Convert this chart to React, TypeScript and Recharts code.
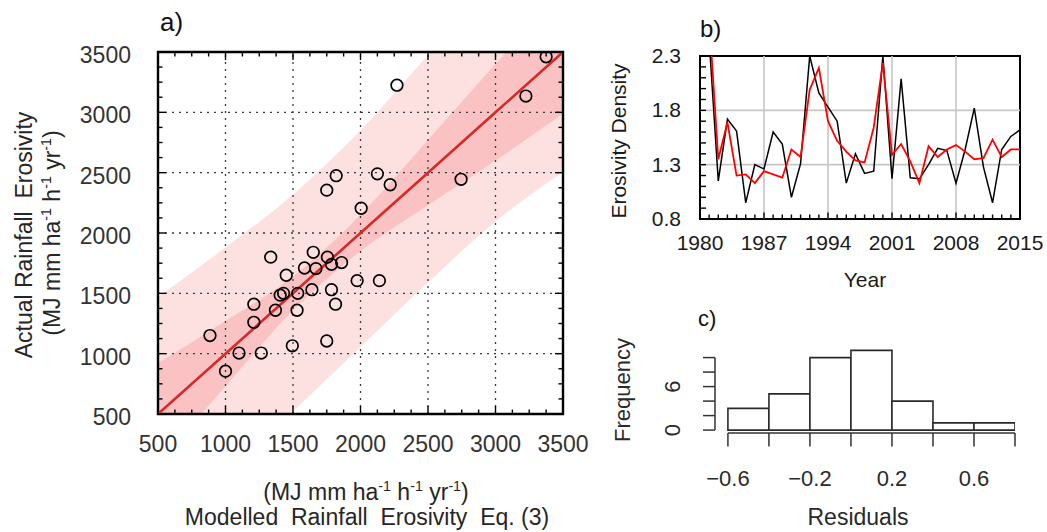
import React from 'react';
import {
  ComposedChart,
  Line,
  Area,
  Scatter,
  Bar,
  XAxis,
  YAxis,
  ReferenceLine,
  ReferenceArea,
} from 'recharts';

const FONT = '"Liberation Sans", Arial, Helvetica, sans-serif';

// ---------------- Panel a: scatter of modelled vs actual erosivity ----------------
const modelledR = [3375, 2270, 3225, 1820, 1750, 2125, 2220, 2745, 2005, 1650, 1335, 1755, 1785, 1860, 1585, 1670, 1450, 1975, 2140, 1640, 1785, 1405, 1430, 1535, 1815, 1210, 1370, 1530, 1210, 885, 1750, 1495, 1100, 1265, 1000];
const actualR = [3460, 3225, 3135, 2475, 2355, 2490, 2400, 2445, 2205, 1840, 1800, 1800, 1740, 1755, 1710, 1705, 1650, 1605, 1605, 1530, 1530, 1485, 1500, 1500, 1410, 1410, 1360, 1360, 1260, 1150, 1105, 1065, 1005, 1005, 855];

const bandX = [500, 1000, 1500, 2000, 2500, 3000, 3500];
const fitY = [500, 1000, 1500, 2000, 2500, 3000, 3500];
const predLow = [-560, -20, 520, 1056, 1590, 2095, 2505];
const predHigh = [1470, 1880, 2320, 2850, 3470, 4050, 4600];
const confLow = [80, 730, 1360, 1850, 2230, 2600, 2990];
const confHigh = [920, 1270, 1640, 2150, 2770, 3400, 4010];

const aMajorTicks = [500, 1000, 1500, 2000, 2500, 3000, 3500];
const aMinorTicks = [625, 750, 875, 1125, 1250, 1375, 1625, 1750, 1875, 2125, 2250, 2375, 2625, 2750, 2875, 3125, 3250, 3375];
const aGrid = [1000, 1500, 2000, 2500, 3000];

// ---------------- Panel b: erosivity density time series ----------------
const years = [1981, 1982, 1983, 1984, 1985, 1986, 1987, 1988, 1989, 1990, 1991, 1992, 1993, 1994, 1995, 1996, 1997, 1998, 1999, 2000, 2001, 2002, 2003, 2004, 2005, 2006, 2007, 2008, 2009, 2010, 2011, 2012, 2013, 2014, 2015];
const observedDensity = [2.45, 1.15, 1.72, 1.61, 0.95, 1.3, 1.26, 1.6, 1.49, 1.0, 1.31, 2.3, 1.96, 1.83, 1.7, 1.13, 1.4, 1.22, 1.24, 2.3, 1.17, 2.09, 1.18, 1.17, 1.3, 1.45, 1.43, 1.13, 1.44, 1.82, 1.28, 0.95, 1.44, 1.56, 1.62];
const modelledDensity = [2.65, 1.35, 1.69, 1.2, 1.21, 1.13, 1.24, 1.21, 1.18, 1.44, 1.37, 1.99, 2.19, 1.7, 1.52, 1.42, 1.34, 1.32, 1.64, 2.24, 1.39, 1.49, 1.33, 1.13, 1.47, 1.37, 1.44, 1.48, 1.42, 1.35, 1.36, 1.53, 1.37, 1.44, 1.44];

const bYearTicks = [1980, 1981, 1982, 1983, 1984, 1985, 1986, 1987, 1988, 1989, 1990, 1991, 1992, 1993, 1994, 1995, 1996, 1997, 1998, 1999, 2000, 2001, 2002, 2003, 2004, 2005, 2006, 2007, 2008, 2009, 2010, 2011, 2012, 2013, 2014, 2015];
const bYearLabels = [1980, 1987, 1994, 2001, 2008, 2015];
const bDensTicks = [0.8, 0.9, 1.0, 1.1, 1.2, 1.3, 1.4, 1.5, 1.6, 1.7, 1.8, 1.9, 2.0, 2.1, 2.2, 2.3];
const bDensLabels = [0.8, 1.3, 1.8, 2.3];
const bGridX = [1987, 1994, 2001, 2008];
const bGridY = [1.3, 1.8];

// ---------------- Panel c: histogram of residuals ----------------
const binMids = [-0.5, -0.3, -0.1, 0.1, 0.3, 0.5, 0.7];
const binCounts = [3, 5, 10, 11, 4, 1, 1];
const cXTicks = [-0.6, -0.4, -0.2, 0, 0.2, 0.4, 0.6, 0.8];
const cXLabelValues = [-0.6, -0.2, 0.2, 0.6];
const cXLabelTexts = ['\u22120.6', '\u22120.2', '0.2', '0.6'];
const cYTicks = [0, 2, 4, 6, 8, 10];
const cYLabels = [0, 6];

// ---------------- derived tables ----------------
const bandData = bandX.map((x, i) => ({
  x,
  fit: fitY[i],
  pred: [predLow[i], predHigh[i]],
  conf: [confLow[i], confHigh[i]],
}));
const scatterData = modelledR.map((x, i) => ({ x, y: actualR[i] }));
const densData = years.map((year, i) => ({
  year,
  observed: observedDensity[i],
  modelled: modelledDensity[i],
}));
const histData = binMids.map((mid, i) => ({ mid, count: binCounts[i] }));

// ---------------- layout constants ----------------
const A_TOP = 52;
const A_RIGHT = 563;
const B_LEFT_W = 60;

const near = (arr: number[], v: number) => arr.some((a) => Math.abs(a - v) < 1e-6);

const aXTick = (props: any) => {
  const { x, y, payload } = props;
  const v = Number(payload.value);
  const major = near(aMajorTicks, v);
  const len = major ? 8 : 4.5;
  return (
    <g>
      <line x1={x} x2={x} y1={y} y2={y - len} stroke="#000" strokeWidth={1.4} />
      <line x1={x} x2={x} y1={A_TOP} y2={A_TOP + len} stroke="#000" strokeWidth={1.4} />
      {major ? (
        <text x={x} y={y + 37.5} textAnchor="middle" fontSize={23} fontFamily={FONT} fill="#333">
          {v}
        </text>
      ) : null}
    </g>
  );
};

const aYTick = (props: any) => {
  const { x, y, payload } = props;
  const v = Number(payload.value);
  const major = near(aMajorTicks, v);
  const len = major ? 8 : 4.5;
  return (
    <g>
      <line x1={x} x2={x + len} y1={y} y2={y} stroke="#000" strokeWidth={1.4} />
      <line x1={A_RIGHT} x2={A_RIGHT - len} y1={y} y2={y} stroke="#000" strokeWidth={1.4} />
      {major ? (
        <text x={x - 27} y={y + 11} textAnchor="end" fontSize={23} fontFamily={FONT} fill="#333">
          {v}
        </text>
      ) : null}
    </g>
  );
};

const bXTick = (props: any) => {
  const { x, y, payload } = props;
  const v = Number(payload.value);
  const major = near(bYearLabels, v);
  const len = major ? 6.5 : 4.5;
  return (
    <g>
      <line x1={x} x2={x} y1={y} y2={y - len} stroke="#000" strokeWidth={1.4} />
      {major ? (
        <text x={x} y={y + 31} textAnchor="middle" fontSize={21} fontFamily={FONT} fill="#1a1a1a">
          {v}
        </text>
      ) : null}
    </g>
  );
};

const bYTick = (props: any) => {
  const { x, y, payload } = props;
  const v = Number(payload.value);
  const major = near(bDensLabels, v);
  return (
    <g>
      <line x1={x} x2={x + 6} y1={y} y2={y} stroke="#000" strokeWidth={1.4} />
      {major ? (
        <text x={x - 19} y={y + 7} textAnchor="end" fontSize={21} fontFamily={FONT} fill="#1a1a1a">
          {v.toFixed(1)}
        </text>
      ) : null}
    </g>
  );
};

const cXTick = (props: any) => {
  const { x, y, payload } = props;
  const v = Number(payload.value);
  const idx = cXLabelValues.findIndex((a) => Math.abs(a - v) < 1e-6);
  return (
    <g>
      <line x1={x} x2={x} y1={y} y2={y + 13.5} stroke="#333" strokeWidth={1.5} />
      {idx >= 0 ? (
        <text x={x} y={y + 53} textAnchor="middle" fontSize={22} fontFamily={FONT} fill="#2a2a2a">
          {cXLabelTexts[idx]}
        </text>
      ) : null}
    </g>
  );
};

const cYTick = (props: any) => {
  const { x, y, payload } = props;
  const v = Number(payload.value);
  const lab = near(cYLabels, v);
  const bx = x - 35;
  return (
    <g>
      <line x1={x} x2={x - 12} y1={y} y2={y} stroke="#333" strokeWidth={1.5} />
      {lab ? (
        <text
          x={bx}
          y={y}
          transform={`rotate(-90 ${bx} ${y})`}
          textAnchor="middle"
          fontSize={22}
          fontFamily={FONT}
          fill="#2a2a2a"
        >
          {v}
        </text>
      ) : null}
    </g>
  );
};

const Sup = ({ children }: { children: React.ReactNode }) => (
  <span style={{ fontSize: '0.62em', position: 'relative', top: '-0.6em' }}>{children}</span>
);

const Units = () => (
  <>
    (MJ mm ha<Sup>-1</Sup> h<Sup>-1</Sup> yr<Sup>-1</Sup>)
  </>
);

const Txt = ({
  cx,
  cy,
  size,
  rotate,
  color,
  children,
}: {
  cx: number;
  cy: number;
  size: number;
  rotate?: boolean;
  color?: string;
  children: React.ReactNode;
}) => (
  <div
    style={{
      position: 'absolute',
      left: cx,
      top: cy,
      transform: `translate(-50%, -50%)${rotate ? ' rotate(-90deg)' : ''}`,
      fontSize: size,
      lineHeight: 1,
      whiteSpace: 'pre',
      fontFamily: FONT,
      color: color || '#1a1a1a',
    }}
  >
    {children}
  </div>
);

const circleShape = (p: any) => (
  <circle cx={p.cx} cy={p.cy} r={5.8} fill="none" stroke="#000" strokeWidth={1.7} />
);

export default function App() {
  return (
    <div
      style={{
        position: 'absolute',
        left: 0,
        top: 0,
        width: 1047,
        height: 532,
        background: '#fff',
        overflow: 'hidden',
        fontFamily: FONT,
      }}
    >
      {/* Panel a */}
      <div style={{ position: 'absolute', left: 0, top: 0 }}>
        <ComposedChart
          width={600}
          height={532}
          data={bandData}
          margin={{ top: 52, right: 37, bottom: 88, left: 98 }}
        >
          <XAxis
            type="number"
            dataKey="x"
            domain={[500, 3500]}
            ticks={[...aMajorTicks, ...aMinorTicks].sort((a, b) => a - b)}
            interval={0}
            tickSize={0}
            tickMargin={0}
            tickLine={false}
            axisLine={false}
            height={30}
            tick={aXTick}
            allowDataOverflow
          />
          <YAxis
            type="number"
            dataKey="y"
            domain={[500, 3500]}
            ticks={[...aMajorTicks, ...aMinorTicks].sort((a, b) => a - b)}
            interval={0}
            tickSize={0}
            tickMargin={0}
            tickLine={false}
            axisLine={false}
            width={60}
            tick={aYTick}
            allowDataOverflow
          />
          <Area
            dataKey="pred"
            type="monotone"
            stroke="none"
            fill="#f03030"
            fillOpacity={0.15}
            isAnimationActive={false}
          />
          <Area
            dataKey="conf"
            type="monotone"
            stroke="none"
            fill="#f03030"
            fillOpacity={0.17}
            isAnimationActive={false}
          />
          {aGrid.map((v) => (
            <ReferenceLine key={`gx${v}`} x={v} stroke="#3a3a3a" strokeWidth={1.3} strokeDasharray="2 5" />
          ))}
          {aGrid.map((v) => (
            <ReferenceLine key={`gy${v}`} y={v} stroke="#3a3a3a" strokeWidth={1.3} strokeDasharray="2 5" />
          ))}
          <Line
            dataKey="fit"
            type="linear"
            stroke="#d62a2a"
            strokeWidth={2.6}
            dot={false}
            isAnimationActive={false}
          />
          <Scatter data={scatterData} dataKey="y" shape={circleShape} isAnimationActive={false} />
          <ReferenceArea
            x1={500}
            x2={3500}
            y1={500}
            y2={3500}
            fill="none"
            fillOpacity={0}
            stroke="#000"
            strokeWidth={2.4}
          />
        </ComposedChart>
      </div>

      {/* Panel b */}
      <div style={{ position: 'absolute', left: 600, top: 0 }}>
        <ComposedChart
          width={447}
          height={300}
          data={densData}
          margin={{ top: 56, right: 27, bottom: 51, left: 100 - B_LEFT_W }}
        >
          <XAxis
            type="number"
            dataKey="year"
            domain={[1980, 2015]}
            ticks={bYearTicks}
            interval={0}
            tickSize={0}
            tickMargin={0}
            tickLine={false}
            axisLine={false}
            height={30}
            tick={bXTick}
            allowDataOverflow
          />
          <YAxis
            type="number"
            domain={[0.8, 2.3]}
            ticks={bDensTicks}
            interval={0}
            tickSize={0}
            tickMargin={0}
            tickLine={false}
            axisLine={false}
            width={B_LEFT_W}
            tick={bYTick}
            allowDataOverflow
          />
          {bGridX.map((v) => (
            <ReferenceLine key={`bx${v}`} x={v} stroke="#c6c6c6" strokeWidth={1.6} />
          ))}
          {bGridY.map((v) => (
            <ReferenceLine key={`by${v}`} y={v} stroke="#c6c6c6" strokeWidth={1.6} />
          ))}
          <Line
            dataKey="observed"
            type="linear"
            stroke="#000"
            strokeWidth={1.5}
            dot={false}
            isAnimationActive={false}
          />
          <Line
            dataKey="modelled"
            type="linear"
            stroke="#ff0000"
            strokeWidth={1.8}
            dot={false}
            isAnimationActive={false}
          />
          <ReferenceArea
            x1={1980}
            x2={2015}
            y1={0.8}
            y2={2.3}
            fill="none"
            fillOpacity={0}
            stroke="#000"
            strokeWidth={2}
          />
        </ComposedChart>
      </div>

      {/* Panel c */}
      <div style={{ position: 'absolute', left: 600, top: 290 }}>
        <ComposedChart
          width={447}
          height={242}
          data={histData}
          margin={{ top: 56.7, right: 32, bottom: 59, left: 55 }}
        >
          <XAxis
            type="number"
            dataKey="mid"
            domain={[-0.663, 0.8]}
            ticks={cXTicks}
            interval={0}
            tickSize={0}
            tickMargin={0}
            tickLine={false}
            axisLine={false}
            height={40}
            tick={cXTick}
            allowDataOverflow
          />
          <YAxis
            type="number"
            domain={[-0.4, 11.5]}
            ticks={cYTicks}
            interval={0}
            tickSize={0}
            tickMargin={0}
            tickLine={false}
            axisLine={false}
            width={60}
            tick={cYTick}
            allowDataOverflow
          />
          <Bar
            dataKey="count"
            fill="#fff"
            stroke="#2a2a2a"
            strokeWidth={1.6}
            barSize={41}
            isAnimationActive={false}
          />
          <ReferenceLine
            segment={[
              { x: -0.663, y: 0 },
              { x: -0.663, y: 10 },
            ]}
            stroke="#333"
            strokeWidth={1.5}
            ifOverflow="visible"
          />
          <ReferenceLine
            segment={[
              { x: -0.6, y: -0.4 },
              { x: 0.8, y: -0.4 },
            ]}
            stroke="#333"
            strokeWidth={1.5}
            ifOverflow="visible"
          />
        </ComposedChart>
      </div>

      {/* Titles & labels */}
      <div style={{ position: 'absolute', left: 160, top: 9, fontSize: 26, lineHeight: 1, color: '#111' }}>a)</div>
      <div style={{ position: 'absolute', left: 700, top: 17, fontSize: 24, lineHeight: 1, color: '#111' }}>b)</div>
      <div style={{ position: 'absolute', left: 698, top: 308, fontSize: 22, lineHeight: 1, color: '#111' }}>c)</div>

      <Txt cx={24} cy={235} size={23} rotate color="#262626">
        {'Actual Rainfall  Erosivity'}
      </Txt>
      <Txt cx={52} cy={233} size={23} rotate color="#262626">
        <Units />
      </Txt>
      <Txt cx={366} cy={492} size={23} color="#262626">
        <Units />
      </Txt>
      <Txt cx={367} cy={517} size={23} color="#262626">
        {'Modelled  Rainfall  Erosivity  Eq. (3)'}
      </Txt>

      <Txt cx={618} cy={141} size={21} rotate>
        Erosivity Density
      </Txt>
      <Txt cx={865} cy={279} size={21}>
        Year
      </Txt>

      <Txt cx={623} cy={390} size={22} rotate color="#2a2a2a">
        Frequency
      </Txt>
      <Txt cx={858} cy={517} size={23} color="#2a2a2a">
        Residuals
      </Txt>
    </div>
  );
}
